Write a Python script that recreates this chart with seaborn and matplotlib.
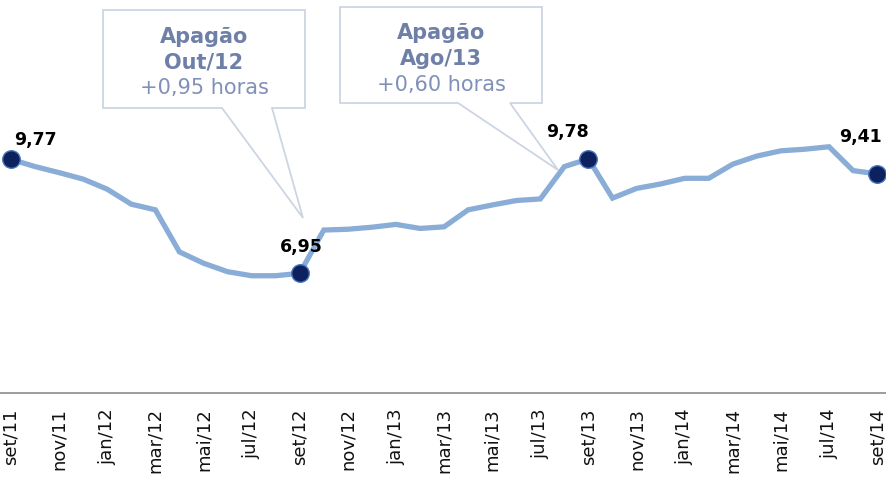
import matplotlib
matplotlib.use("Agg")
import matplotlib.pyplot as plt
import seaborn as sns
import pandas as pd
import numpy as np
from matplotlib.patches import Polygon

# ---- data ----
months = ["set/11", "out/11", "nov/11", "dez/11", "jan/12", "fev/12", "mar/12", "abr/12",
          "mai/12", "jun/12", "jul/12", "ago/12", "set/12", "out/12", "nov/12", "dez/12",
          "jan/13", "fev/13", "mar/13", "abr/13", "mai/13", "jun/13", "jul/13", "ago/13",
          "set/13", "out/13", "nov/13", "dez/13", "jan/14", "fev/14", "mar/14", "abr/14",
          "mai/14", "jun/14", "jul/14", "ago/14", "set/14"]
values = [9.77, 9.59, 9.44, 9.28, 9.03, 8.66, 8.52, 7.48, 7.20, 6.99, 6.89, 6.89, 6.95,
          8.02, 8.04, 8.09, 8.16, 8.06, 8.10, 8.52, 8.64, 8.75, 8.79, 9.59, 9.78, 8.81,
          9.05, 9.16, 9.30, 9.30, 9.65, 9.85, 9.98, 10.02, 10.08, 9.49, 9.41]
highlight_months = ["set/11", "set/12", "set/13", "set/14"]
highlight_labels = ["9,77", "6,95", "9,78", "9,41"]
tick_labels = months[::2]
callouts = [("Apagão", "Out/12", "+0,95 horas"), ("Apagão", "Ago/13", "+0,60 horas")]

df = pd.DataFrame({"idx": np.arange(len(months)), "mes": months, "valor": values})
hl = df[df["mes"].isin(highlight_months)]

W, H = 887, 478
sns.set_style("white")
plt.rcParams["font.family"] = ["DejaVu Sans"]
fig = plt.figure(figsize=(W / 100, H / 100), dpi=100)
ax = fig.add_axes([0, (H - 393) / H, 1, 393 / H])

sns.lineplot(data=df, x="idx", y="valor", ax=ax, color="#8AADD7", linewidth=3.8,
             solid_joinstyle="miter", zorder=2)
sns.scatterplot(data=hl, x="idx", y="valor", ax=ax, s=160, color="#0C215E",
                edgecolor="#4A78BD", linewidth=1.0, zorder=3)

offsets = [(24, 19), (2, 26), (-21, 27), (-17, 37)]
for (i, row), lab, (dx, dy) in zip(hl.iterrows(), highlight_labels, offsets):
    ax.annotate(lab, (row["idx"], row["valor"]), xytext=(dx * 0.72, dy * 0.72),
                textcoords="offset points", ha="center", va="center",
                fontsize=12.5, fontweight="bold", color="black", zorder=4)

px = 24.06
ax.set_xlim(-11 / px, (W - 11) / px)
ax.set_ylim(9.77 - (393 - 159.3) / 40.43, 9.77 + 159.3 / 40.43)

ax.set_xticks(df["idx"][::2])
ax.set_xticklabels(tick_labels, rotation=90, fontsize=13, color="#111111")
ax.set_xticks(np.arange(1.5, len(months) - 1, 2), minor=True)
ax.tick_params(axis="x", which="major", length=0, pad=11)
ax.tick_params(axis="x", which="minor", length=4, width=1.2, color="#8C8C8C", direction="out")
ax.set_yticks([])
ax.set_xlabel("")
ax.set_ylabel("")
for s in ["top", "right", "left"]:
    ax.spines[s].set_visible(False)
ax.spines["bottom"].set_color("#8C8C8C")
ax.spines["bottom"].set_linewidth(1.2)

def fpt(x, y):
    return (x / W, 1 - y / H)

boxes = [
    [(103, 10), (305, 10), (305, 108), (272, 108), (303, 218), (222, 108), (103, 108)],
    [(340, 7), (542, 7), (542, 103), (510, 103), (558, 170), (458, 103), (340, 103)],
]
text_pos = [(204, [43, 69, 94]), (441, [39, 65, 91])]
for verts, (cx, bls), lines in zip(boxes, text_pos, callouts):
    poly = Polygon([fpt(*v) for v in verts], closed=True, transform=fig.transFigure,
                   facecolor="white", edgecolor="#CDD5E2", linewidth=1.3, zorder=5)
    fig.patches.append(poly)
    for j, (txt, bl) in enumerate(zip(lines, bls)):
        bold = j < 2
        fig.text(cx / W, 1 - bl / H, txt, ha="center", va="baseline",
                 fontsize=15, fontweight="bold" if bold else "normal",
                 color="#6F80A8" if bold else "#8090B8", zorder=6)

fig.savefig("out.png", dpi=100)
